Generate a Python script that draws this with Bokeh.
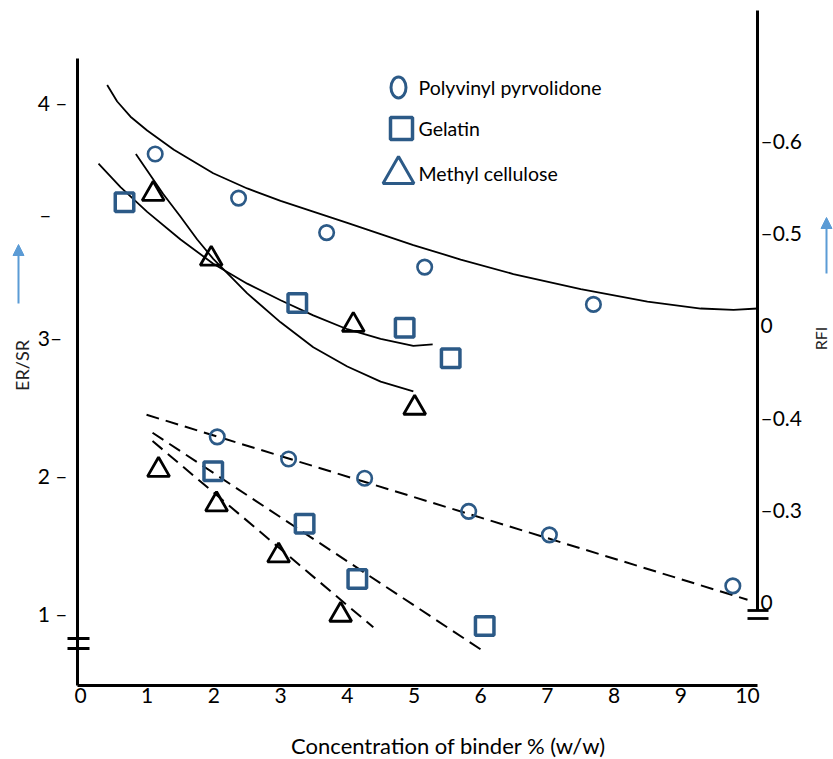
import math
from bokeh.plotting import figure
from bokeh.models import Range1d, LinearAxis, FixedTicker, Label, Arrow, NormalHead
from bokeh.core.properties import value
from bokeh.embed import file_html
from bokeh.resources import INLINE

FONT = "Lato"
BLUE = "#2C5A87"
ARROW_BLUE = "#5B9BD5"

# ---------------- data (plot coordinates: x = binder %, y = ER/SR scale)
pvp_er_x = [1.12, 2.37, 3.69, 5.16, 7.69]
pvp_er_y = [4.33, 4.01, 3.76, 3.51, 3.24]
gel_er_x = [0.66, 3.25, 4.86, 5.55]
gel_er_y = [3.98, 3.25, 3.07, 2.85]
mc_er_x = [1.09, 1.96, 4.09, 5.01]
mc_er_y = [4.04, 3.57, 3.09, 2.49]

pvp_er_fit_x = [0.40, 0.55, 0.75, 1.00, 1.40, 1.99, 2.50, 3.00, 4.00, 4.99, 5.70, 6.49, 7.50, 8.50, 9.30, 9.79, 10.15]
pvp_er_fit_y = [4.83, 4.71, 4.60, 4.50, 4.36, 4.19, 4.08, 3.99, 3.83, 3.67, 3.565, 3.46, 3.35, 3.26, 3.21, 3.20, 3.21]
gel_er_fit_x = [0.27, 0.60, 1.00, 1.50, 1.99, 2.50, 3.00, 3.49, 4.00, 4.50, 4.99, 5.28]
gel_er_fit_y = [4.26, 4.09, 3.91, 3.71, 3.535, 3.39, 3.27, 3.16, 3.06, 2.99, 2.94, 2.95]
mc_er_fit_x = [0.83, 1.24, 1.50, 1.75, 1.99, 2.50, 3.00, 3.49, 4.00, 4.50, 4.99]
mc_er_fit_y = [4.33, 4.04, 3.875, 3.71, 3.57, 3.32, 3.11, 2.93, 2.79, 2.68, 2.61]

pvp_rfi_x = [2.05, 3.12, 4.26, 5.82, 7.03, 9.78]
pvp_rfi_y = [2.28, 2.12, 1.98, 1.74, 1.57, 1.20]
gel_rfi_x = [1.99, 3.36, 4.15, 6.06]
gel_rfi_y = [2.03, 1.65, 1.25, 0.91]
mc_rfi_x = [1.17, 2.04, 2.97, 3.90]
mc_rfi_y = [2.04, 1.79, 1.42, 0.99]

pvp_rfi_fit_x = [0.99, 10.00]
pvp_rfi_fit_y = [2.44, 1.10]
gel_rfi_fit_x = [1.08, 6.00]
gel_rfi_fit_y = [2.31, 0.74]
mc_rfi_fit_x = [1.08, 4.39]
mc_rfi_fit_y = [2.25, 0.90]

x_ticks = list(range(0, 11))
er_tick_vals = [1, 2, 3, 3.89, 4.70]
er_tick_text = ["1 \u2013", "2 \u2013", "3\u2013\u00a0", "\u2013\u00a0\u00a0\u00a0", "4 \u2013"]
rfi_tick_vals = [0, 1, 2, 3, 4, 5]
rfi_tick_text = ["0", "\u20130.3", "\u20130.4", "0", "\u20130.5", "\u20130.6"]

legend_names = ["Polyvinyl pyrvolidone", "Gelatin", "Methyl cellulose"]


# ---------------- pixel helpers for decorations (canvas px -> plot coordinates)
def X(px):
    return (px - 80) / 66.7


def Y(py):
    return 2 + (475 - py) / 138.0


def R(py):
    return (601 - py) / 92.2


p = figure(width=833, height=759, output_backend="svg", toolbar_location=None,
           x_range=Range1d(X(0), X(833)), y_range=Range1d(Y(759), Y(0)),
           min_border=0, min_border_left=0, min_border_right=0, min_border_top=0,
           min_border_bottom=0)
p.grid.visible = False
p.outline_line_color = None
p.background_fill_color = "white"
p.border_fill_color = "white"

p.extra_y_ranges = {"rfi": Range1d(R(759), R(0))}
raxis = LinearAxis(y_range_name="rfi")
p.add_layout(raxis, "right")

for ax in [p.xaxis[0], p.yaxis[0], raxis]:
    ax.axis_line_width = 3
    ax.axis_line_color = "black"
    ax.major_tick_out = 0
    ax.major_tick_in = 0
    ax.minor_tick_out = 0
    ax.minor_tick_in = 0
    ax.major_label_text_font = FONT
    ax.major_label_text_font_size = "21px"
    ax.major_label_text_color = "black"

p.xaxis.fixed_location = Y(685)
p.xaxis.ticker = FixedTicker(ticks=x_ticks)
p.xaxis.major_label_standoff = 2
p.xaxis.bounds = (X(77), X(757))

p.yaxis.fixed_location = X(77)
p.yaxis.ticker = FixedTicker(ticks=er_tick_vals)
p.yaxis.major_label_overrides = {v: t for v, t in zip(er_tick_vals, er_tick_text)}
p.yaxis.major_label_standoff = 10
p.yaxis.bounds = (Y(685), Y(58))

raxis.fixed_location = X(757)
raxis.ticker = FixedTicker(ticks=rfi_tick_vals)
raxis.major_label_overrides = {v: t for v, t in zip(rfi_tick_vals, rfi_tick_text)}
raxis.major_label_standoff = 3
raxis.bounds = (R(610), R(10))

# ---------------- fitted curves
for fx, fy in [(pvp_er_fit_x, pvp_er_fit_y), (gel_er_fit_x, gel_er_fit_y), (mc_er_fit_x, mc_er_fit_y)]:
    p.line(fx, fy, line_color="black", line_width=1.8, line_join="round")
for fx, fy in [(pvp_rfi_fit_x, pvp_rfi_fit_y), (gel_rfi_fit_x, gel_rfi_fit_y), (mc_rfi_fit_x, mc_rfi_fit_y)]:
    p.line(fx, fy, line_color="black", line_width=2, line_dash="13 7")

# ---------------- points
for xs, ys in [(pvp_er_x, pvp_er_y), (pvp_rfi_x, pvp_rfi_y)]:
    p.scatter(xs, ys, marker="circle", size=14.5, fill_color="white", fill_alpha=0,
              line_color=BLUE, line_width=2.6)
for xs, ys in [(gel_er_x, gel_er_y), (gel_rfi_x, gel_rfi_y)]:
    p.scatter(xs, ys, marker="square", size=18.5, fill_color="white", fill_alpha=0,
              line_color=BLUE, line_width=3.5)
for xs, ys in [(mc_er_x, mc_er_y), (mc_rfi_x, mc_rfi_y)]:
    p.scatter(xs, ys, marker="triangle", size=22, fill_color="white", fill_alpha=0,
              line_color="black", line_width=2.8)

# ---------------- legend (drawn by hand to match marker sizes)
p.ellipse([X(398)], [Y(87)], width=15, height=21, width_units="screen", height_units="screen",
          fill_alpha=0, line_color=BLUE, line_width=3)
p.scatter([X(401)], [Y(128)], marker="square", size=22, fill_alpha=0, line_color=BLUE, line_width=3.5)
p.scatter([X(398)], [Y(174)], marker="triangle", size=31, fill_alpha=0, line_color=BLUE, line_width=3)
p.text([X(418)] * 3, [Y(87), Y(128), Y(173)], text=legend_names, text_font=value(FONT),
       text_font_size="19.5px", text_baseline="middle", text_align="left", text_color="black")

# ---------------- axis titles
p.add_layout(Label(x=X(448), y=Y(745), text="Concentration of binder % (w/w)", text_font=FONT,
                   text_font_size="22px", text_align="center", text_baseline="middle",
                   text_color="black"))
p.add_layout(Label(x=X(21), y=Y(365), text="ER/SR", text_font=FONT, text_font_size="18px",
                   text_align="center", text_baseline="middle", angle=math.pi / 2,
                   text_color="#222222"))
p.add_layout(Label(x=X(820), y=Y(338), text="RFI", text_font=FONT, text_font_size="16px",
                   text_align="center", text_baseline="middle", angle=math.pi / 2,
                   text_color="#222222"))

# ---------------- blue arrows
for ax_px, y0, y1 in [(18, 303, 244), (826, 273, 217)]:
    p.add_layout(Arrow(x_start=X(ax_px), y_start=Y(y0), x_end=X(ax_px), y_end=Y(y1),
                       line_color=ARROW_BLUE, line_width=2,
                       end=NormalHead(size=11, fill_color=ARROW_BLUE, line_color=ARROW_BLUE)))

# ---------------- axis break marks
for x0, x1, yy in [(67, 89, 638), (67, 89, 648), (747, 768, 610), (747, 768, 618)]:
    p.add_layout(Arrow(x_start=X(x0), y_start=Y(yy), x_end=X(x1), y_end=Y(yy),
                       line_color="black", line_width=2.8, start=None, end=None))

open("out.html", "w").write(file_html(p, INLINE))
